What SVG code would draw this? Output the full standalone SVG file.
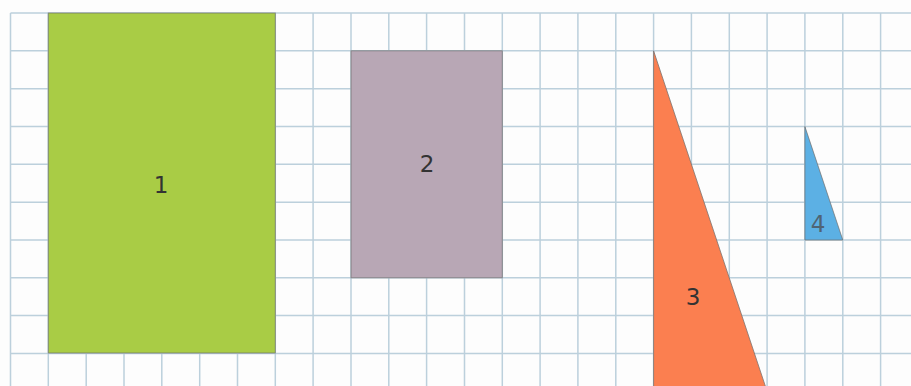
<svg xmlns="http://www.w3.org/2000/svg" width="911" height="386" viewBox="0 0 911 386">
<style>
.grid{stroke:#bcd0dc;stroke-width:1.5;fill:none}
.lbl{font-family:"DejaVu Sans","Liberation Sans",sans-serif;font-size:23px;fill:#333;text-anchor:middle}
.edge{stroke:#6d6d6d;stroke-width:1;stroke-opacity:0.7}
</style>
<rect width="911" height="386" fill="#fdfdfd"/>
<g id="grid" class="grid">
<path d="M10.5 13V386M48.3 13V386M86.2 13V386M124 13V386M161.8 13V386M199.7 13V386M237.5 13V386M275.3 13V386M313.1 13V386M351 13V386M388.8 13V386M426.6 13V386M464.5 13V386M502.3 13V386M540.1 13V386M577.9 13V386M615.8 13V386M653.6 13V386M691.4 13V386M729.3 13V386M767.1 13V386M804.9 13V386M842.8 13V386M880.6 13V386"/>
<path d="M10.5 13H911M10.5 50.8H911M10.5 88.7H911M10.5 126.5H911M10.5 164.3H911M10.5 202.2H911M10.5 240H911M10.5 277.8H911M10.5 315.6H911M10.5 353.5H911"/>
</g>
<g id="shape1">
<rect x="48.3" y="13" width="227" height="340" fill="#a9cc45" class="edge"/>
<text class="lbl" x="161" y="193">1</text>
</g>
<g id="shape2">
<rect x="351" y="50.8" width="151.3" height="227" fill="#b8a7b5" class="edge"/>
<text class="lbl" x="427" y="172">2</text>
</g>
<g id="shape3">
<polygon points="653.6,50.8 804.9,504.8 653.6,504.8" fill="#fb7f50" class="edge"/>
<text class="lbl" x="693" y="305">3</text>
</g>
<g id="shape4">
<polygon points="804.9,126.5 842.8,240 804.9,240" fill="#5cb0e4" class="edge"/>
<text class="lbl" x="818" y="232" style="fill:#4f6474">4</text>
</g>
</svg>
